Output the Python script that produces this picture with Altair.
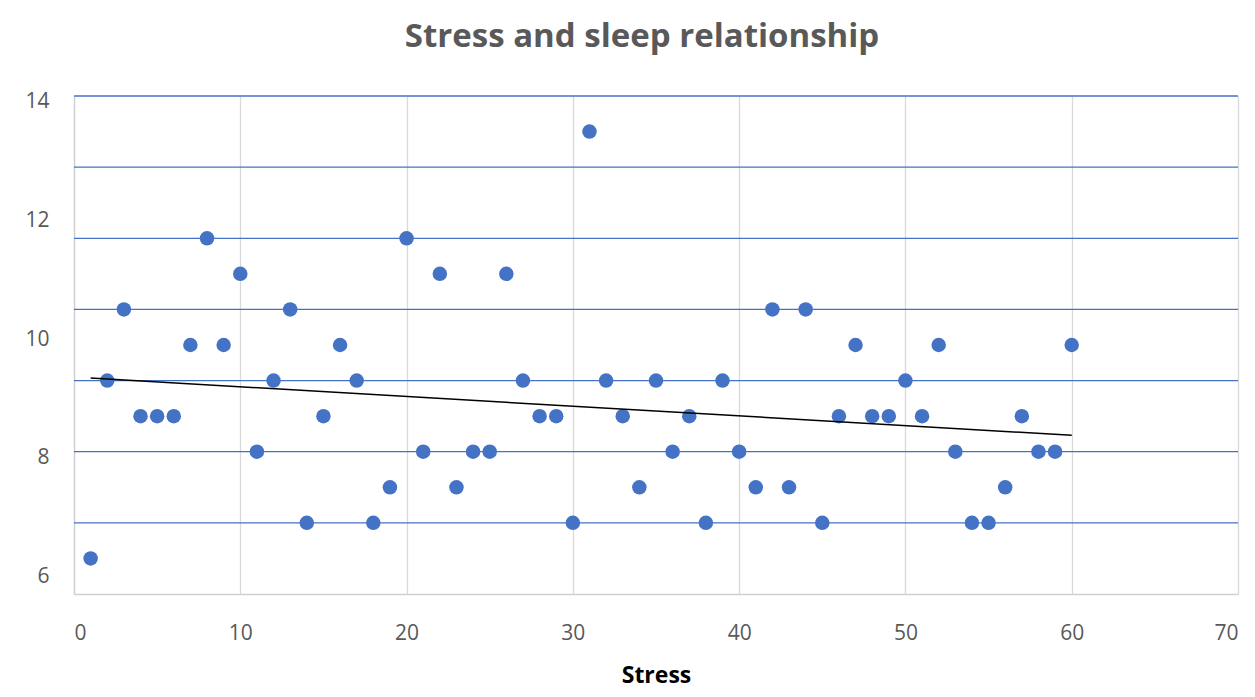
import altair as alt
import pandas as pd

stress = list(range(1, 61))
sleep = [6.3, 9.3, 10.5, 8.7, 8.7, 8.7, 9.9, 11.7, 9.9, 11.1,
         8.1, 9.3, 10.5, 6.9, 8.7, 9.9, 9.3, 6.9, 7.5, 11.7,
         8.1, 11.1, 7.5, 8.1, 8.1, 11.1, 9.3, 8.7, 8.7, 6.9,
         13.5, 9.3, 8.7, 7.5, 9.3, 8.1, 8.7, 6.9, 9.3, 8.1,
         7.5, 10.5, 7.5, 10.5, 6.9, 8.7, 9.9, 8.7, 8.7, 9.3,
         8.7, 9.9, 8.1, 6.9, 6.9, 7.5, 8.7, 8.1, 8.1, 9.9]
x_ticks = [0, 10, 20, 30, 40, 50, 60, 70]
y_labels = [6, 8, 10, 12, 14]
y_grid = [6.9, 8.1, 9.3, 10.5, 11.7, 12.9, 14.1]

df = pd.DataFrame({"stress": stress, "sleep": sleep})
grid_df = pd.DataFrame({"g": y_grid})

yscale = alt.Scale(domain=[5.7, 14.1], nice=False, zero=False)
xscale = alt.Scale(domain=[0, 70], nice=False)

x_axis = alt.Axis(values=x_ticks, grid=True, gridColor="#D9D9D9", gridWidth=1.3,
                  domainColor="#D0D0D0", domainWidth=1.5, ticks=False, tickSize=0,
                  labelPadding=28, title="Stress", titlePadding=21,
                  titleFontSize=23, titleFontWeight="bold", titleColor="#000000")
y_axis = alt.Axis(values=y_labels, grid=False, domain=True, domainColor="#D0D0D0",
                  domainWidth=1.3, ticks=False, tickSize=0, labelPadding=25, title=None)

points = alt.Chart(df).mark_circle(color="#4472C4", opacity=1, size=210).encode(
    x=alt.X("stress:Q", scale=xscale, axis=x_axis),
    y=alt.Y("sleep:Q", scale=yscale, axis=y_axis),
)

grid = alt.Chart(grid_df).mark_rule(color="#4472C4", strokeWidth=1.3).encode(
    y=alt.Y("g:Q", scale=yscale, axis=y_axis)
)

trend = alt.Chart(df).transform_regression("stress", "sleep", extent=[1, 60]).mark_line(
    color="#000000", strokeWidth=1.5
).encode(
    x=alt.X("stress:Q", scale=xscale, axis=x_axis),
    y=alt.Y("sleep:Q", scale=yscale, axis=y_axis),
)

chart = alt.layer(grid, points, trend).properties(
    width=1164,
    height=498,
    autosize="none",
    padding={"left": 66, "top": 88, "right": 9, "bottom": 95},
    title=alt.TitleParams(
        text="Stress and sleep relationship",
        font="Open Sans", fontSize=33, fontWeight="bold", color="#595959",
        anchor="middle", offset=37, dx=-14,
    ),
).configure_view(stroke=None).configure_axis(
    labelFont="Open Sans", labelFontSize=21, labelColor="#595959",
    titleFont="Open Sans",
)

chart.save("out.html", embed_options={"renderer": "svg", "actions": False})
